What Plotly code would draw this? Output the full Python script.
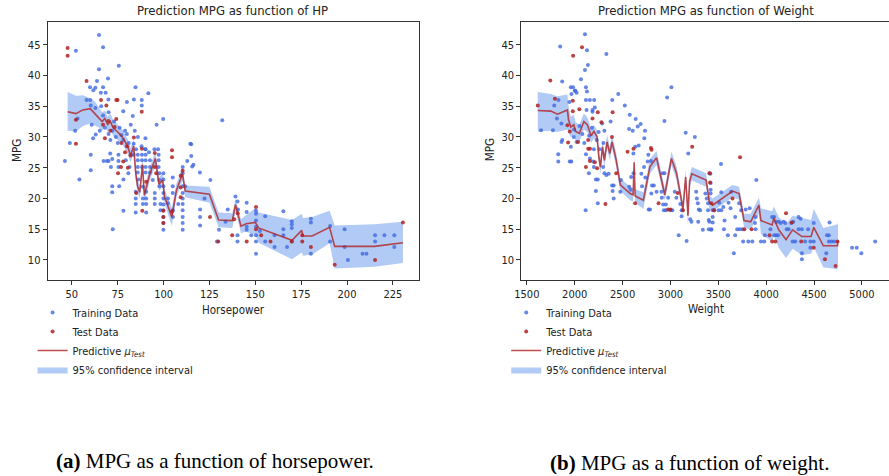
import plotly.graph_objects as go

# ---------------- Left panel: MPG vs Horsepower ----------------
hp_train = [64.8, 67, 52.2, 75.6, 64.8, 69.7, 63.7, 59.9, 62.8, 61.7, 67, 65.8, 68.4, 84.7, 91.7, 58, 60, 69.9,
            80, 83.8, 88.1, 88.1, 60.3, 62.8, 78, 83.2, 99.8, 96.2, 132, 53.1, 51.8, 82.1, 84.3, 90.1, 60.8,
            61.6, 63, 65.2, 48.9, 114.6, 77, 67, 68, 70, 71, 72, 73, 74, 75, 76, 70, 66, 79, 78, 81, 80, 86,
            88, 85, 90, 92, 95, 97,
            46.2, 60.3, 60.3, 54.1, 70.9, 67.3, 69.1, 70, 71.3, 72, 72, 72, 72.3, 75.4, 75.4, 75.4, 78.1, 78.1,
            75.8, 79.4, 80.8, 81.5, 83.7, 83.7, 85.9, 85.9, 85.9, 85.9, 86.2, 84.8, 84.8, 84.8, 84.8, 88.2,
            88.2, 88.2, 90.2, 90.2, 90.2, 90.2, 90.2, 88.7, 88.7, 88.7, 90.5, 90.5, 90.5, 90.5, 92.6, 92.6,
            92.6, 94.1, 95.2, 95.2, 95.2, 97.3, 97.3, 97.3, 97.7, 97.7, 97.7, 99.9, 99.9, 99.9, 99.9, 99.9,
            99.9, 99.9, 99.9, 99.9, 99.9, 98.3, 98.3, 102.4, 102.4, 105, 105, 105, 105.1, 105.1, 108, 110.4,
            110.4, 110.4, 110.4, 110.4, 110.4, 110.4, 110.4, 110.4, 110.4, 111.8, 112.9, 115.1, 115.1, 115.6,
            116.3, 119.8, 119.9, 119.9, 119.9, 122.3, 125.5, 130.2, 129.1, 135, 133.8,
            139.2, 140.3, 140.6, 140.3, 140.3, 145.3, 145.3, 145.3, 145.3, 147.8, 150.4, 150.4, 150.4, 150.4,
            150.4, 150.4, 150.4, 152.5, 155.4, 155.4, 160.5, 160.5, 165.3, 165.3, 165.3, 167.3, 169.9, 169.9,
            169.9, 169.9, 180.3, 180.3, 180.3, 190.8, 190.8, 198.7, 198.7, 200.5, 208.5, 210.6, 215.3, 215.3,
            220.4, 225.8, 225.8]
mpg_hp_train = [46.6, 44.6, 44.0, 41.6, 41.0, 39.5, 39.1, 38.1, 38.0, 37.6, 38.1, 37.2, 37.2, 38.1, 37.1, 36.0,
                36.0, 36.1, 35.7, 36.1, 36.0, 35.1, 35.1, 34.7, 34.2, 33.4, 32.9, 32.0, 32.7, 33.0, 31.0, 32.0,
                31.0, 29.8, 32.0, 29.8, 30.4, 31.0, 29.0, 28.9, 30.3, 33.5, 31.5, 30.5, 29.5, 31.0, 32.5, 30.0,
                29.0, 31.5, 34.0, 35.0, 31.0, 29.5, 29.0, 30.5, 30.0, 28.5, 28.0, 28.0, 27.5, 28.0, 28.0,
                26.1, 27.1, 24.6, 23.1, 27.3, 26.1, 26.1, 26.1, 25.1, 26.4, 22.0, 21.0, 15.0, 27.1, 26.1, 25.1,
                23.1, 18.0, 22.0, 26.2, 24.1, 25.1, 28.9, 27.1, 27.1, 26.2, 25.1, 24.2, 23.1, 21.1, 20.0, 19.1,
                17.7, 27.1, 26.2, 25.1, 28.0, 27.1, 26.2, 25.1, 24.2, 21.9, 20.0, 19.1, 21.1, 20.0, 19.1, 17.7,
                26.2, 25.1, 24.2, 23.0, 20.9, 20.0, 19.1, 27.1, 26.2, 25.1, 24.1, 23.0, 22.0, 24.1, 23.1, 22.0,
                20.9, 20.0, 19.0, 18.1, 17.0, 16.0, 14.9, 19.1, 18.1, 20.0, 19.2, 23.4, 22.0, 20.9, 18.1, 17.0,
                19.1, 25.1, 24.1, 22.0, 20.9, 20.0, 19.1, 18.1, 17.0, 16.0, 14.9, 22.0, 26.1, 28.8, 26.9, 25.2,
                25.5, 24.2, 18.2, 17.0, 15.6, 20.0, 23.0, 14.9, 13.0, 18.2, 16.2,
                20.3, 19.5, 18.2, 14.0, 13.0, 19.3, 17.8, 15.4, 14.9, 14.0, 18.0, 17.5, 16.4, 15.4, 14.0, 13.0,
                11.0, 14.7, 17.1, 13.0, 14.0, 12.1, 17.9, 15.0, 14.0, 12.1, 16.3, 15.8, 15.2, 13.0, 16.7, 16.1,
                11.0, 15.5, 13.0, 15.0, 12.1, 10.0, 11.0, 11.0, 14.0, 13.0, 14.0, 14.0, 12.1]
hp_test = [47.7, 47.7, 58, 65.9, 74.2, 74.9, 68.8, 88.1, 52.2, 74.2, 69.9, 67, 71, 73.3, 83.8, 68, 52.2,
           80, 82, 78, 79, 77,
           75.2, 76.8, 80.5, 85.1, 88.4, 88.2, 90.5, 95.2, 95.2, 96, 99.9, 99.9, 99.9, 104.6, 104.6, 104.6,
           109.3, 109.3, 109.3, 110.4, 125.3, 129.8, 137.4, 138.5,
           145.3, 150.4, 150.4, 153.2, 158.3, 169.9, 175.6, 175.6, 180.3, 193.3, 215.3, 230.5, 140.4]
mpg_hp_test = [44.45, 43.2, 39.1, 36.0, 36.0, 36.0, 35.1, 34.1, 32.8, 32.9, 32.6, 32.0, 31.0, 31.6, 29.9, 29.8,
               28.9, 28.5, 27.0, 26.0, 27.5, 29.0,
               24.1, 25.1, 25.0, 20.9, 18.0, 28.1, 22.7, 27.4, 25.1, 24.1, 18.0, 17.0, 16.0, 27.85, 26.7, 17.9,
               23.7, 21.8, 20.2, 24.5, 17.0, 13.0, 14.0, 16.6,
               13.0, 18.6, 15.0, 14.0, 13.0, 13.0, 14.0, 13.0, 12.1, 9.2, 10.0, 16.1, 17.6]
hp_line = [47.7, 52.2, 56.0, 60.0, 62.5, 65.0, 66.5, 68.0, 69.5, 71.0, 72.5, 75.0, 78.0, 80.5, 82.0, 83.7,
           84.8, 85.8, 87.0, 88.5, 89.5, 92.5, 95.5, 97.5, 99.5, 100.5, 104.5, 107.0, 110.3, 111.8, 125.0,
           130.0, 137.5, 139.2, 140.6, 142.2, 145.0, 150.0, 151.8, 170.0, 175.3, 176.0, 181.0, 190.5, 193.3,
           215.0, 230.5]
hp_mean = [34.1, 33.8, 34.4, 34.6, 33.8, 33.0, 32.5, 33.0, 32.0, 32.5, 31.5, 30.8, 29.8, 28.4, 27.0, 28.5,
           24.1, 22.0, 21.0, 25.5, 20.5, 24.0, 26.5, 22.3, 23.0, 20.3, 17.0, 21.3, 24.0, 21.2, 20.7,
           16.5, 16.4, 19.0, 17.5, 15.5, 15.9, 16.1, 15.2, 13.2, 14.8, 13.9, 13.9, 15.3, 12.2, 12.2, 12.8]
hp_lo = [31.0, 30.9, 31.8, 32.2, 31.8, 31.5, 31.0, 31.8, 30.8, 31.2, 30.2, 29.5, 28.6, 27.2, 25.9, 27.3,
         23.0, 21.0, 20.0, 24.3, 19.4, 22.9, 25.3, 21.2, 21.9, 19.2, 15.5, 20.2, 22.9, 20.2, 19.3,
         15.3, 15.2, 18.0, 16.4, 14.4, 14.6, 14.1, 12.8, 10.1, 11.2, 10.7, 10.9, 12.7, 8.6, 8.9, 9.5]
hp_hi = [37.3, 36.7, 36.8, 36.3, 35.8, 34.8, 34.0, 34.3, 33.3, 33.8, 32.8, 32.0, 31.0, 29.6, 28.2, 29.6,
         25.3, 23.1, 22.0, 26.7, 21.6, 25.1, 27.6, 23.4, 24.1, 21.5, 18.5, 22.4, 25.1, 22.1, 21.9,
         17.7, 17.6, 20.0, 18.6, 16.6, 17.3, 18.4, 17.7, 16.5, 17.5, 16.8, 17.0, 18.0, 15.6, 15.8, 16.2]

# ---------------- Right panel: MPG vs Weight ----------------
w_train = [2107, 1848, 2128, 2331, 2138, 2107, 2065, 1869, 3010, 1959, 1983, 2117, 2000, 2020, 2007, 2128, 1966,
           2455, 2965, 2117, 2158, 2203, 2392, 1830, 1944, 2523, 1786, 2210, 2186, 2124, 2186, 2575, 2375, 2637,
           2689, 1814, 2937, 2658, 2568, 2606, 2734, 1861, 1648, 1772, 3159, 3255, 2727, 1870, 1993, 2286, 2310,
           1990, 2020, 2050, 2080, 2100, 2150, 2180, 2230, 2250, 1960, 2200, 2260, 2300,
           1828, 1828, 1948, 1965, 1862, 2117, 2114, 2148, 2159, 2193, 2200, 2221, 2241, 2221, 2241, 2310, 2330,
           2355, 2297, 2390, 2407, 2396, 2407, 2483, 2476, 2590, 2614, 2569, 2583, 2633, 2613, 2668, 2724, 2696,
           2738, 2769, 2762, 2797, 2703, 2772, 2786, 2807, 2827, 2800, 2855, 2907, 2924, 2952, 2931, 2952, 2910,
           2917, 2938, 2976, 3000, 3020, 3045, 3062, 3103, 3117, 3117, 3086, 3169, 3186, 3207, 3220, 3269, 3276,
           3286, 3296, 3290, 3310, 3338, 3365, 3379, 3393, 3393, 3417, 3424, 3407, 3441, 3458,
           3528, 3414, 3897, 3420, 3420, 3420, 3441, 3441, 3400, 3400, 3428, 3510, 3531, 3503, 3531, 3552, 3565,
           3607, 3628, 3634, 3676, 3676, 3600, 3559, 3662, 3717, 3738, 3697, 3724, 3752, 3759, 3814, 3855, 3786,
           3828, 3890, 3883, 3890, 3945, 3980, 3986, 4045, 4062, 4083, 4104, 4131, 4152, 4183, 4200, 4083, 4104,
           4124, 4214, 4235, 4262, 4283, 4276, 4304, 4338, 4359, 4338, 4373, 4373, 4373, 4407, 4462, 4497, 4438,
           4497, 4462, 4628, 4662, 4635, 4655, 4655, 4683, 4710, 4897, 4946, 4994, 5139]
mpg_w_train = [46.7, 44.7, 44.1, 43.5, 41.7, 40.9, 39.4, 39.0, 38.1, 38.1, 38.1, 38.1, 37.5, 37.2, 37.5, 37.4,
               37.0, 37.0, 36.4, 36.0, 36.0, 36.0, 36.0, 36.0, 35.7, 35.1, 35.1, 34.8, 34.4, 34.4, 34.1, 33.6,
               32.5, 32.9, 32.1, 33.0, 32.6, 31.7, 31.3, 31.0, 31.0, 32.2, 31.1, 31.1, 30.7, 30.0, 29.8, 29.5,
               31.2, 32.2, 31.0,
               30.0, 29.2, 31.8, 30.5, 29.0, 30.2, 31.5, 29.5, 30.8, 28.4, 28.0, 28.0, 29.0,
               27.2, 26.0, 26.0, 26.0, 29.2, 27.2, 18.1, 24.1, 26.5, 26.0, 25.1, 23.1, 23.1, 21.2, 19.2, 24.1,
               23.8, 24.0, 25.1, 22.1, 22.1, 21.2, 20.0, 23.0, 21.1, 23.5, 24.1, 21.9, 21.4, 28.4, 27.3, 28.6,
               25.1, 24.0, 23.4, 27.1, 26.0, 26.1, 22.0, 18.2, 18.2, 22.1, 22.1, 20.8, 21.1, 21.1, 19.0, 19.0,
               18.1, 18.1, 20.1, 24.1, 24.1, 20.1, 18.1, 18.1, 21.1, 20.1, 19.1, 18.1, 17.1, 14.0, 13.1, 27.3,
               16.6, 16.2, 21.1, 20.0, 19.2, 18.2, 16.2, 18.1, 14.9, 20.8, 20.0, 19.2, 18.1, 24.0, 14.9, 16.2,
               17.0, 18.1,
               25.6, 24.1, 23.0, 22.5, 21.4, 20.8, 18.1, 16.1, 16.5, 15.0, 15.0, 19.3, 21.0, 18.1, 18.1, 18.6,
               16.4, 19.3, 18.4, 21.1, 17.0, 14.0, 14.0, 15.0, 11.1, 19.2, 18.1, 15.0, 15.0, 15.0, 13.0, 13.0,
               13.0, 18.2, 18.4, 17.0, 16.0, 15.0, 13.0, 13.0, 14.0, 15.0, 17.0, 17.0, 16.2, 16.2, 16.0, 16.2,
               16.0, 14.0, 14.0, 14.0, 15.0, 15.0, 16.0, 16.2, 13.0, 13.0, 17.0, 16.7, 15.0, 15.0, 11.1, 10.1,
               13.0, 13.0, 13.0, 15.0, 16.0, 12.0, 11.1, 16.1, 14.0, 14.0, 13.0, 13.0, 13.0, 12.0, 12.0, 11.1,
               13.0]
w_test = [1614, 2076, 1983, 1745, 1793, 1980, 1980, 2048, 2241, 2396, 1924, 1948, 2186, 2279, 2389, 1931, 2034,
          2141, 2117, 2141, 2159, 2159, 2210, 2321, 2234, 2434, 2552, 2614, 2631, 2796, 2876, 2976, 3000, 3076,
          3131, 3227, 3407, 3727, 2803, 3414, 3428, 3455, 3648, 3772, 3848, 4035, 4062, 4097, 4207, 4269, 4366,
          4497, 4614, 4725, 4745]
mpg_w_test = [35.1, 44.6, 43.2, 39.2, 36.2, 35.9, 34.2, 34.5, 34.0, 34.0, 31.9, 30.9, 33.0, 32.4, 30.0, 29.1,
              29.2, 29.5, 25.1, 28.1, 28.1, 26.1, 25.9, 19.1, 24.9, 24.1, 27.6, 28.1, 19.2, 28.2, 19.2, 18.2,
              18.2, 20.9, 18.1, 28.4, 24.1, 26.7, 27.9, 22.6, 19.2, 18.1, 20.0, 15.0, 15.0, 14.0, 13.0, 13.0,
              17.6, 16.1, 13.0, 12.0, 10.1, 9.0, 13.0]
w_line = [1614, 1750, 1820, 1924, 1935, 1960, 1990, 2010, 2048, 2096, 2131, 2172, 2200, 2234, 2252, 2269, 2290,
          2310, 2338, 2366, 2390, 2434, 2476, 2579, 2610, 2621, 2631, 2717, 2786, 2855, 2941, 3010, 3062, 3096,
          3131, 3159, 3183, 3200, 3224, 3372, 3407, 3441, 3648, 3717, 3769, 3838, 3924, 3945, 4062, 4080, 4131,
          4207, 4276, 4373, 4469, 4497, 4597, 4745, 4750]
w_mean = [34.3, 34.2, 33.7, 34.4, 32.8, 31.6, 32.0, 30.9, 30.6, 32.5, 32.0, 30.2, 30.9, 30.0, 26.7, 25.1, 28.4,
          26.2, 29.2, 27.3, 29.2, 26.2, 22.2, 20.8, 20.6, 25.9, 20.4, 19.7, 25.2, 26.6, 20.6, 26.5, 24.2, 21.3,
          18.3, 23.5, 17.2, 22.8, 24.0, 23.0, 19.4, 18.9, 21.2, 20.8, 16.4, 16.2, 18.9, 16.4, 15.7, 16.8, 14.9,
          13.3, 14.9, 13.8, 13.8, 15.3, 12.3, 12.3, 13.1]
w_lo = [30.9, 31.0, 30.8, 31.2, 30.8, 29.9, 30.4, 29.4, 29.2, 31.2, 30.8, 29.0, 29.8, 28.9, 25.6, 24.0, 27.3,
        25.1, 28.1, 26.2, 28.1, 25.1, 21.2, 19.7, 19.5, 24.8, 19.3, 18.3, 24.0, 25.5, 19.6, 25.4, 23.1, 20.3,
        17.3, 22.4, 15.5, 21.7, 22.9, 21.9, 18.3, 17.9, 20.2, 19.8, 15.3, 14.9, 17.6, 14.2, 13.0, 14.0, 12.0,
        10.3, 11.8, 10.8, 11.0, 12.1, 8.8, 8.5, 9.5]
w_hi = [37.3, 37.0, 36.6, 36.9, 34.9, 33.3, 33.6, 32.4, 32.0, 33.8, 33.2, 31.4, 32.0, 31.1, 27.8, 26.2, 29.5,
        27.3, 30.3, 28.4, 30.3, 27.3, 23.3, 21.9, 21.7, 27.0, 21.5, 21.0, 26.4, 27.7, 21.7, 27.6, 25.3, 22.4,
        19.4, 24.6, 18.8, 23.9, 25.1, 24.1, 20.5, 20.0, 22.2, 21.9, 17.5, 17.5, 20.1, 18.4, 17.9, 18.7, 17.0,
        15.8, 17.2, 16.8, 16.5, 18.3, 15.2, 15.8, 16.2]

hp_ticks = [50, 75, 100, 125, 150, 175, 200, 225]
w_ticks = [1500, 2000, 2500, 3000, 3500, 4000, 4500, 5000]
mpg_ticks = [10, 15, 20, 25, 30, 35, 40, 45]

FONT = "DejaVu Sans Condensed, DejaVu Sans, sans-serif"
SERIF = "Liberation Serif, Times New Roman, serif"
BLUE = "rgba(65,105,225,0.8)"
RED = "rgba(178,34,34,0.85)"
BAND = "rgba(100,149,237,0.5)"
LINE = "rgba(178,34,34,0.8)"
AX = "#333333"

fig = go.Figure()


def add_panel(xa, ya, leg, xtr, ytr, xte, yte, xl, ym, ylo, yhi):
    fig.add_trace(go.Scatter(x=xl + xl[::-1], y=yhi + ylo[::-1], fill="toself", fillcolor=BAND,
                             mode="lines", line=dict(width=0), name="95% confidence interval",
                             xaxis=xa, yaxis=ya, legend=leg, legendrank=4, hoverinfo="skip"))
    fig.add_trace(go.Scatter(x=xtr, y=ytr, mode="markers", marker=dict(size=4, color=BLUE),
                             name="Training Data", xaxis=xa, yaxis=ya, legend=leg, legendrank=1))
    fig.add_trace(go.Scatter(x=xte, y=yte, mode="markers", marker=dict(size=4, color=RED),
                             name="Test Data", xaxis=xa, yaxis=ya, legend=leg, legendrank=2))
    fig.add_trace(go.Scatter(x=xl, y=ym, mode="lines", line=dict(color=LINE, width=1.6),
                             name="Predictive <i>μ</i><sub><i>Test</i></sub>",
                             xaxis=xa, yaxis=ya, legend=leg, legendrank=3))


add_panel("x", "y", "legend", hp_train, mpg_hp_train, hp_test, mpg_hp_test, hp_line, hp_mean, hp_lo, hp_hi)
add_panel("x2", "y2", "legend2", w_train, mpg_w_train, w_test, mpg_w_test, w_line, w_mean, w_lo, w_hi)

axis_common = dict(showline=True, linecolor=AX, linewidth=1, ticks="outside", ticklen=4, tickcolor=AX,
                   showgrid=False, zeroline=False, tickfont=dict(family=FONT, size=11, color="#222"))
ydom = [0.4118, 0.9545]
fig.update_layout(
    width=889, height=476, margin=dict(l=0, r=0, t=0, b=0),
    paper_bgcolor="white", plot_bgcolor="white",
    xaxis=dict(domain=[0.0461, 0.4668], range=[36.8, 239.1], tickvals=hp_ticks, mirror=True, anchor="y",
               **axis_common),
    yaxis=dict(domain=ydom, range=[6.74, 48.75], tickvals=mpg_ticks, mirror=True, anchor="x", **axis_common),
    xaxis2=dict(domain=[0.583, 1.0], range=[1441, 5283], tickvals=w_ticks, mirror=True, anchor="y2",
                **axis_common),
    yaxis2=dict(domain=ydom, range=[6.74, 48.75], tickvals=mpg_ticks, mirror=False, anchor="x2",
                **axis_common),
    legend=dict(x=0.029, y=0.374, xanchor="left", yanchor="top", bgcolor="rgba(0,0,0,0)",
                font=dict(family=FONT, size=11, color="#222"), tracegroupgap=0),
    legend2=dict(x=0.566, y=0.374, xanchor="left", yanchor="top", bgcolor="rgba(0,0,0,0)",
                 font=dict(family=FONT, size=11, color="#222"), tracegroupgap=0),
    showlegend=True,
)

ann = [
    dict(text="Prediction MPG as function of HP", x=0.256, y=1 - 10 / 476, size=13, font=FONT),
    dict(text="Prediction MPG as function of Weight", x=0.793, y=1 - 10 / 476, size=13, font=FONT),
    dict(text="Horsepower", x=0.2565, y=1 - 310 / 476, size=11.5, font=FONT),
    dict(text="Weight", x=705 / 889, y=1 - 309 / 476, size=11.5, font=FONT),
]
for a in ann:
    fig.add_annotation(text=a["text"], x=a["x"], y=a["y"], xref="paper", yref="paper", showarrow=False,
                       xanchor="center", yanchor="middle", font=dict(family=a["font"], size=a["size"], color="#222"))
for xx in [10 / 889, 487 / 889]:
    fig.add_annotation(text="MPG", x=xx, y=1 - 150 / 476, xref="paper", yref="paper", showarrow=False,
                       textangle=-90, xanchor="center", yanchor="middle",
                       font=dict(family=FONT, size=11.5, color="#222"))
fig.add_annotation(text="<b>(a)</b> MPG as a function of horsepower.", x=210 / 889, y=1 - 461 / 476,
                   xref="paper", yref="paper", showarrow=False, xanchor="center", yanchor="middle",
                   font=dict(family=SERIF, size=21, color="black"))
fig.add_annotation(text="<b>(b)</b> MPG as a function of weight.", x=687.5 / 889, y=1 - 463 / 476,
                   xref="paper", yref="paper", showarrow=False, xanchor="center", yanchor="middle",
                   font=dict(family=SERIF, size=21, color="black"))

fig.write_html("out.html")
